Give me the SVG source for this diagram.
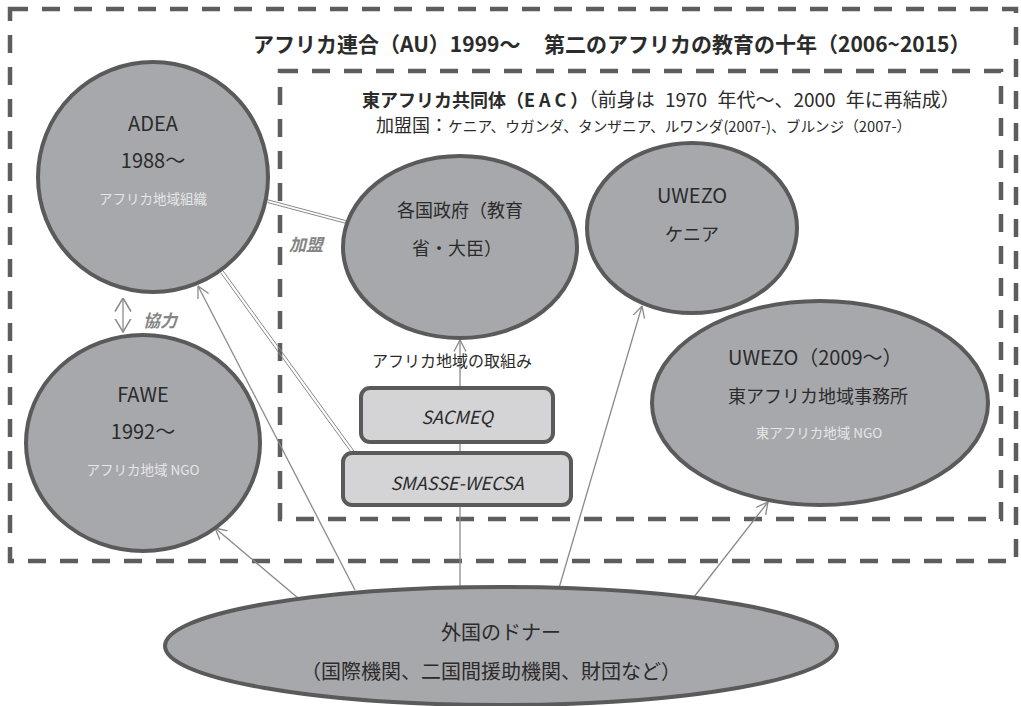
<svg xmlns="http://www.w3.org/2000/svg" width="1021" height="706" viewBox="0 0 1021 706">
<defs>
<marker id="arr" markerUnits="userSpaceOnUse" viewBox="0 0 12 14" refX="11.5" refY="7" markerWidth="12" markerHeight="14" orient="auto">
<path d="M0,1 L11.5,7 L0,13" fill="none" stroke="#8a8a8a" stroke-width="1.3"/>
</marker>
<marker id="arr2" markerUnits="userSpaceOnUse" viewBox="0 0 14 18" refX="13.5" refY="9" markerWidth="14" markerHeight="18" orient="auto-start-reverse">
<path d="M0,1 L13.5,9 L0,17" fill="none" stroke="#8a8a8a" stroke-width="1.5"/>
</marker>
</defs>
<style>
text{font-family:"Noto Sans CJK JP","Noto Sans",sans-serif;fill:#2b2b2b}
.frame{fill:none;stroke:#5d5d5d;stroke-width:4.5;stroke-dasharray:18 14}
.node{fill:#a7a8ac;stroke:#5a5a5a;stroke-width:4}
.box{fill:#d4d4d6;stroke:#5a5a5a;stroke-width:4}
.conn{fill:none;stroke:#8a8a8a;stroke-width:1.3}
.dbl{fill:none;stroke:#8a8a8a;stroke-width:1}
.lbl{fill:#858585;font-style:italic;font-weight:bold;font-size:17px}
.sub{fill:#e6e6e6;font-size:13.5px}
.t20{font-size:20px}
.t18{font-size:18px}
.mid{text-anchor:middle}
</style>
<rect width="1021" height="706" fill="#ffffff"/>

<g id="au">
<rect class="frame" x="10" y="9" width="1006" height="552"/>
<text x="253" y="52" font-size="21" font-weight="bold">アフリカ連合（AU）1999～</text>
<text x="544" y="52" font-size="21" font-weight="bold">第二のアフリカの教育の十年（2006~2015）</text>
</g>

<g id="eac">
<rect class="frame" x="280" y="71" width="721" height="448"/>
<text x="362" y="107"><tspan font-size="18" font-weight="bold">東アフリカ共同体（<tspan letter-spacing="4">EAC</tspan>）</tspan><tspan font-size="19" word-spacing="6">（前身は 1970 年代～、2000 年に再結成）</tspan></text>
<text x="376" y="132"><tspan font-size="18">加盟国：</tspan><tspan font-size="14.7">ケニア、ウガンダ、タンザニア、ルワンダ(2007-)、ブルンジ（2007-）</tspan></text>
</g>

<g id="connectors">
<path class="dbl" d="M266.6,199.5 L345.6,220.5 M267.4,202.5 L346.4,223.5"/>
<path class="dbl" d="M220.8,272.9 L353.8,455.9 M223.2,271.1 L356.2,454.1"/>
<path class="conn" d="M123,298 L123,332" marker-start="url(#arr2)" marker-end="url(#arr2)"/>
<path class="conn" d="M355,590 L198,286" marker-end="url(#arr)"/>
<path class="conn" d="M298,598 L215,528" marker-end="url(#arr)"/>
<path class="conn" d="M460,588 L460,340" marker-end="url(#arr)"/>
<path class="conn" d="M559,588 L642,306" marker-end="url(#arr)"/>
<path class="conn" d="M694,597 L768,502" marker-end="url(#arr)"/>
<text class="lbl" x="289" y="251">加盟</text>
<text class="lbl" x="143" y="327">協力</text>
<text x="372" y="367" font-size="16">アフリカ地域の取組み</text>
</g>

<g id="adea">
<circle class="node" cx="153" cy="177" r="115"/>
<text class="t20 mid" x="153" y="131">ADEA</text>
<text class="t20 mid" x="153" y="168">1988～</text>
<text class="sub mid" x="153" y="204">アフリカ地域組織</text>
</g>

<g id="fawe">
<ellipse class="node" cx="143" cy="443" rx="117" ry="108"/>
<text class="t20 mid" x="143" y="402">FAWE</text>
<text class="t20 mid" x="143" y="439">1992～</text>
<text class="sub mid" x="143" y="475" font-size="14">アフリカ地域 NGO</text>
</g>

<g id="govt">
<ellipse class="node" cx="460" cy="247" rx="117" ry="91"/>
<text class="t18" x="397" y="217">各国政府（教育</text>
<text class="t18" x="412" y="255">省・大臣）</text>
</g>

<g id="uwezo-kenya">
<ellipse class="node" cx="692" cy="228" rx="105" ry="85"/>
<text class="t20 mid" x="692" y="203">UWEZO</text>
<text class="t18 mid" x="692" y="241">ケニア</text>
</g>

<g id="uwezo-ea">
<ellipse class="node" cx="820" cy="403" rx="168" ry="102"/>
<text class="t20" x="728" y="365">UWEZO（2009～）</text>
<text class="t18" x="728" y="403">東アフリカ地域事務所</text>
<text class="sub mid" x="819" y="438" font-size="14">東アフリカ地域 NGO</text>
</g>

<g id="sacmeq">
<rect class="box" x="361" y="388" width="192" height="54" rx="9"/>
<text class="t18 mid" x="457" y="424" font-style="italic">SACMEQ</text>
</g>

<g id="smasse">
<rect class="box" x="343" y="453" width="228" height="52" rx="9"/>
<text class="t18 mid" x="457" y="490" font-style="italic">SMASSE-WECSA</text>
</g>

<g id="donor">
<ellipse class="node" cx="501" cy="646" rx="336" ry="59"/>
<text class="t20 mid" x="501" y="640">外国のドナー</text>
<text class="t20 mid" x="491" y="679">（国際機関、二国間援助機関、財団など）</text>
</g>
</svg>
